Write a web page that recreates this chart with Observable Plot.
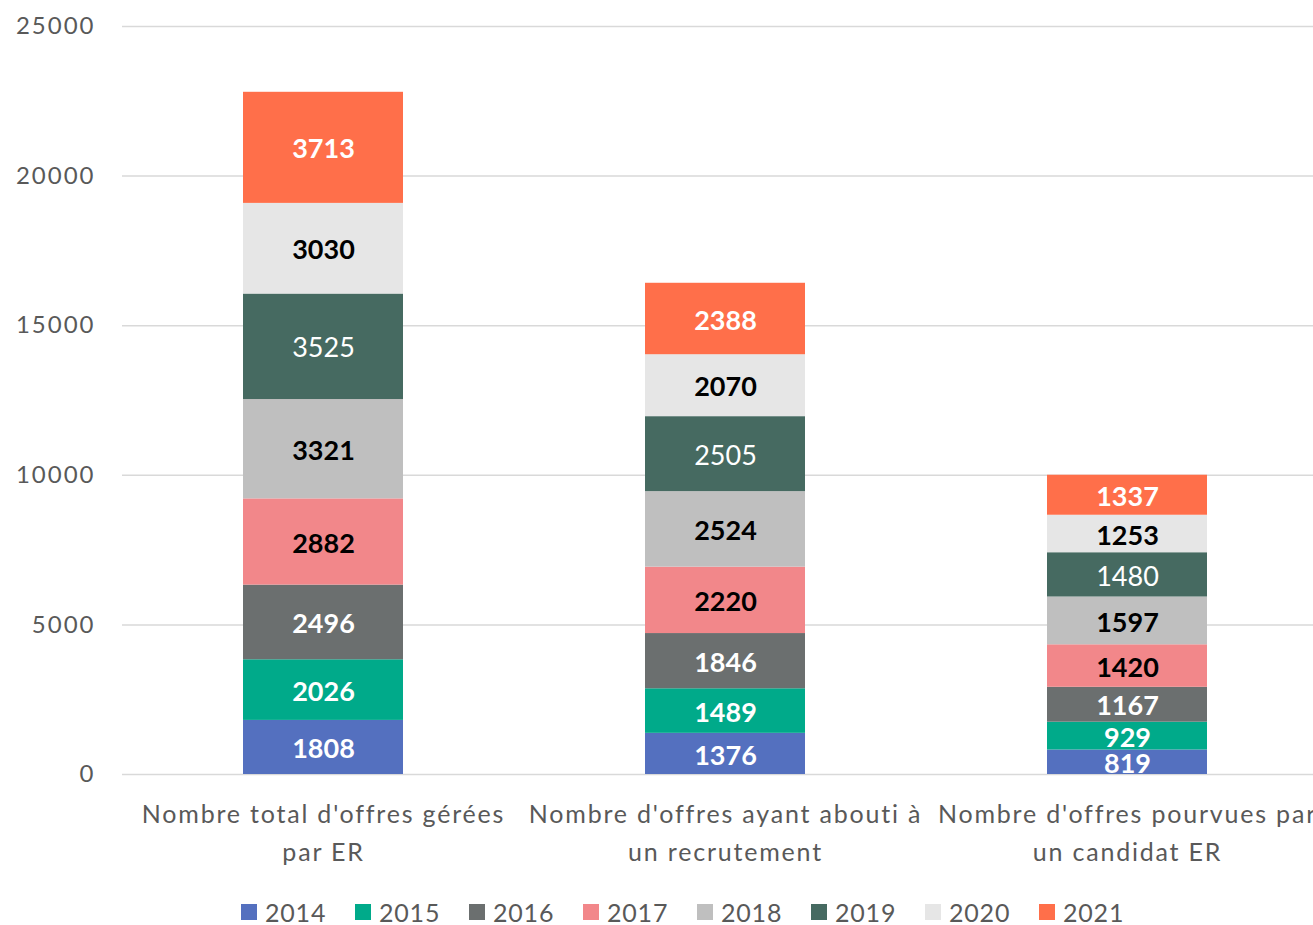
<!DOCTYPE html>
<html>
<head>
<meta charset="utf-8">
<script src="https://cdn.jsdelivr.net/npm/d3@7"></script>
<script src="https://cdn.jsdelivr.net/npm/@observablehq/plot@0.6"></script>
<style>
  html, body { margin: 0; padding: 0; background: #fff; }
  body { position: relative; width: 1313px; height: 925px; overflow: hidden; font-family: Lato, "Open Sans", sans-serif; }
  #legend { position: absolute; top: 896px; left: 241px; display: flex; color: #595959; font-size: 25px; letter-spacing: 0.8px; }
  .item { display: flex; align-items: center; width: 114px; height: 32px; }
  .sw { width: 16px; height: 16px; margin-right: 8px; }
</style>
</head>
<body>
<div id="chart"></div>
<div id="legend"></div>
<script>
const categories = [
  "Nombre total d'offres gérées\npar ER",
  "Nombre d'offres ayant abouti à\nun recrutement",
  "Nombre d'offres pourvues par\nun candidat ER"
];
const years = ["2014", "2015", "2016", "2017", "2018", "2019", "2020", "2021"];
const totalOffres = [1808, 2026, 2496, 2882, 3321, 3525, 3030, 3713];
const recrutement = [1376, 1489, 1846, 2220, 2524, 2505, 2070, 2388];
const pourvuesER  = [819, 929, 1167, 1420, 1597, 1480, 1253, 1337];
const yTicks = [0, 5000, 10000, 15000, 20000, 25000];

const colors = ["#5470BF", "#00AA8A", "#6B6F6F", "#F2878A", "#BFBFBF", "#466A61", "#E6E6E6", "#FF6F4A"];
// label style per year: [fill, weight]
const labelStyle = {
  "2014": ["white", "bold"], "2015": ["white", "bold"], "2016": ["white", "bold"],
  "2017": ["black", "bold"], "2018": ["black", "bold"], "2019": ["white", "normal"],
  "2020": ["black", "bold"], "2021": ["white", "bold"]
};

const series = [totalOffres, recrutement, pourvuesER];
const rows = [];
categories.forEach((c, ci) => {
  let acc = 0;
  years.forEach((y, yi) => {
    const v = series[ci][yi];
    rows.push({cat: c, year: y, value: v, y1: acc, y2: acc + v, mid: acc + v / 2});
    acc += v;
  });
});

function labels(fill, weight) {
  return Plot.text(rows.filter(d => labelStyle[d.year][0] === fill && labelStyle[d.year][1] === weight), {
    x: "cat", y: "mid", text: d => String(d.value), dy: 2,
    fill, fontWeight: weight, fontSize: 27, fontFamily: "Lato"
  });
}

const chart = Plot.plot({
  width: 1313,
  height: 880,
  marginTop: 26,
  marginBottom: 106,
  marginLeft: 122,
  marginRight: 0,
  style: {fontFamily: "Lato, 'Open Sans', sans-serif", background: "white"},
  x: {domain: categories, range: [122, 1328], paddingInner: 0.602, paddingOuter: 0.301, label: null},
  y: {domain: [0, 25000], label: null},
  color: {domain: years, range: colors},
  marks: [
    Plot.ruleY(yTicks, {stroke: "#d9d9d9", strokeWidth: 1.5}),
    Plot.rectY(rows, {x: "cat", y1: "y1", y2: "y2", fill: "year"}),
    labels("white", "bold"),
    labels("black", "bold"),
    labels("white", "normal"),
    Plot.axisY({ticks: yTicks, tickSize: 0, tickPadding: 27, tickFormat: d => String(d), fontSize: 24, fill: "#595959", label: null}),
    Plot.axisX({tickSize: 0, tickPadding: 22, fontSize: 25, fill: "#595959", lineHeight: 1.52, label: null})
  ]
});
document.getElementById("chart").appendChild(chart);
d3.select(chart).selectAll('g[aria-label="y-axis tick label"]').style("letter-spacing", "2px");
d3.select(chart).selectAll('g[aria-label="x-axis tick label"]').style("letter-spacing", "1.8px");

const lg = document.getElementById("legend");
years.forEach((y, i) => {
  const it = document.createElement("div");
  it.className = "item";
  const sw = document.createElement("div");
  sw.className = "sw";
  sw.style.background = colors[i];
  const t = document.createElement("span");
  t.textContent = y;
  it.appendChild(sw);
  it.appendChild(t);
  lg.appendChild(it);
});
</script>
</body>
</html>
